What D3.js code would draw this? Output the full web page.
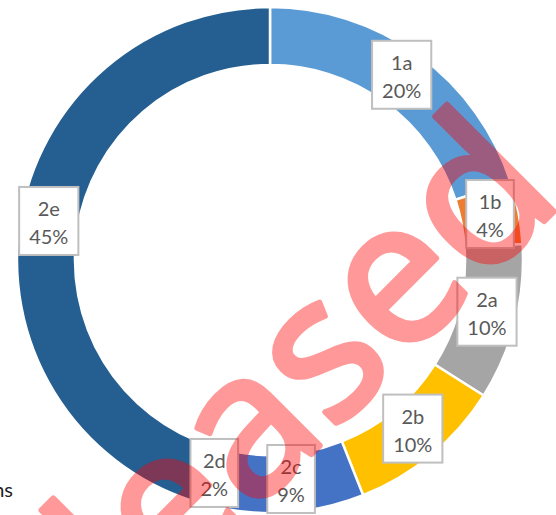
<!DOCTYPE html>
<html>
<head>
<meta charset="utf-8">
<script src="https://cdn.jsdelivr.net/npm/d3@7"></script>
<style>
  body { margin: 0; background: #fff; }
  svg { display: block; }
</style>
</head>
<body>
<svg width="556" height="515"></svg>
<script>
'use strict';
// chart data (percent shares, clockwise from 12 o'clock)
const categories = ['1a', '1b', '2a', '2b', '2c', '2d', '2e'];
const shares = [20, 4, 10, 10, 9, 2, 45];
const watermark_text = 'Released';

const svg = d3.select('svg');

const cx = 270, cy = 260;
const outer_r = 253, inner_r = 195;

const color_scale = d3.scaleOrdinal()
  .domain(categories)
  .range(['#5b9bd5', '#ed7d31', '#a5a5a5', '#ffc000', '#4472c4', '#4472c4', '#255e91']);

const pie = d3.pie().sort(null).value(d => d.value);
const arc = d3.arc().innerRadius(inner_r).outerRadius(outer_r);
const label_arc = d3.arc().innerRadius((inner_r + outer_r) / 2).outerRadius((inner_r + outer_r) / 2);

const slices = pie(categories.map((c, i) => ({key: c, value: shares[i]})));

const chart_g = svg.append('g').attr('transform', `translate(${cx},${cy})`);

//draw ring
chart_g.append('g')
  .selectAll('path').data(slices).enter()
  .append('path')
    .attr('d', arc)
    .attr('fill', d => color_scale(d.data.key))
    .attr('stroke', '#fff')
    .attr('stroke-width', 2.5);

//draw boxed labels
const labels = chart_g.append('g')
  .attr('font-family', 'Lato, Calibri, sans-serif')
  .attr('font-size', 20)
  .attr('fill', '#595959')
  .attr('text-anchor', 'middle')
  .selectAll('g').data(slices).enter()
  .append('g')
    .attr('transform', d => {
      const [x, y] = label_arc.centroid(d);
      return `translate(${x},${y - 4})`;
    });

const box = labels.append('rect')
  .attr('fill', '#fff')
  .attr('stroke', '#bfbfbf')
  .attr('stroke-width', 2);

labels.append('text')
  .attr('y', -5)
  .text(d => d.data.key);

labels.append('text')
  .attr('y', 23)
  .text(d => Math.round(d.value) + '%');

box.each(function() {
  const g = d3.select(this.parentNode);
  let w = 0;
  g.selectAll('text').each(function() { w = Math.max(w, this.getComputedTextLength()); });
  w += 20;
  d3.select(this)
    .attr('x', -w / 2)
    .attr('y', -34)
    .attr('width', w)
    .attr('height', 68);
});

//cut-off legend text at bottom left
svg.append('text')
  .attr('x', 13)
  .attr('y', 497)
  .attr('text-anchor', 'end')
  .attr('font-family', 'Lato, Calibri, sans-serif')
  .attr('font-size', 20)
  .attr('fill', '#1f1f1f')
  .text('ns');

//watermark, baseline along x + y = 766
const wm = svg.append('g')
    .attr('opacity', 0.4)
    .attr('transform', 'translate(383,383) rotate(-45)')
  .append('text')
    .attr('font-family', '"Noto Sans", sans-serif')
    .attr('font-size', 200)
    .attr('fill', '#ff0000')
    .attr('stroke', '#ff0000')
    .attr('stroke-width', 5)
    .attr('stroke-linejoin', 'round')
    .text(watermark_text);

const char_mid = i => {
  const e = wm.node().getExtentOfChar(i);
  return e.x + e.width / 2;
};
// last 'e' centred ~80px along the baseline
wm.attr('x', 80 - char_mid(6));
</script>
</body>
</html>
